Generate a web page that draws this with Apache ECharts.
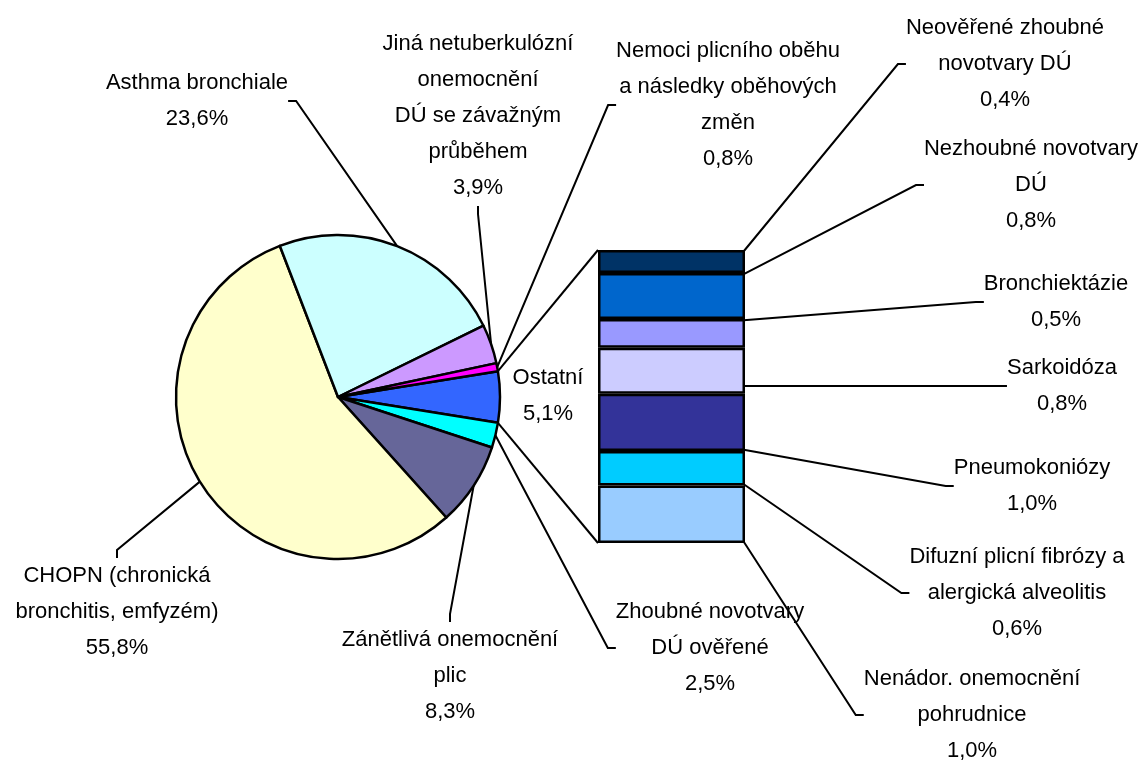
<!DOCTYPE html>
<html>
<head>
<meta charset="utf-8">
<script src="https://cdn.jsdelivr.net/npm/echarts@6/dist/echarts.min.js"></script>
<style>
  html, body { margin: 0; background: #fff; }
  #chart { width: 1147px; height: 760px; }
</style>
</head>
<body>
<div id="chart"></div>
<script>
// pie: first slice is "Ostatní", which is broken down in the bar
const pieNames = [
  'Ostatní',
  'Zhoubné novotvary\nDÚ ověřené',
  'Zánětlivá onemocnění\nplic',
  'CHOPN (chronická\nbronchitis, emfyzém)',
  'Asthma bronchiale',
  'Jiná netuberkulózní\nonemocnění\nDÚ se závažným\nprůběhem',
  'Nemoci plicního oběhu\na následky oběhových\nzměn'
]
const pieValues = [5.1, 2.5, 8.3, 55.8, 23.6, 3.9, 0.8]
const pieColors = ['#3366FF', '#00FFFF', '#666699', '#FFFFCC', '#CCFFFF', '#CC99FF', '#FF00FF']

// bar: breakdown of "Ostatní", top to bottom
const barNames = [
  'Neověřené zhoubné\nnovotvary DÚ',
  'Nezhoubné novotvary\nDÚ',
  'Bronchiektázie',
  'Sarkoidóza',
  'Pneumokoniózy',
  'Difuzní plicní fibrózy a\nalergická alveolitis',
  'Nenádor. onemocnění\npohrudnice'
]
const barValues = [0.4, 0.8, 0.5, 0.8, 1.0, 0.6, 1.0]
const barColors = ['#003366', '#0066CC', '#9999FF', '#CCCCFF', '#333399', '#00CCFF', '#99CCFF']

// label centres (px)
const pieLabelPos = [[548, 396], [710, 648], [450, 676], [117, 612], [197, 101], [478, 116], [728, 105]]
const barLabelPos = [[1005, 64], [1031, 185], [1056, 302], [1062, 386], [1032, 486], [1017, 593], [972, 715]]

const pieCenter = [338, 397]
const pieRadius = 162

const fmt = v => v.toFixed(1).replace('.', ',') + '%'

const textStyle = {
  color: '#000',
  fontFamily: '"Liberation Sans", Arial, sans-serif',
  fontSize: 22,
  lineHeight: 36,
  align: 'center'
}
const leader = { show: true, length: 10, length2: 8, lineStyle: { color: '#000', width: 2 } }

const chart = echarts.init(document.getElementById('chart'))

const total = pieValues.reduce((a, b) => a + b, 0)
const halfAngle = pieValues[0] / total * 180

const option = {
  animation: false,
  grid: { left: 598, right: 402, top: 250, bottom: 217 },
  xAxis: { type: 'category', data: ['Ostatní'], show: false },
  yAxis: { type: 'value', min: 0, max: 5.1, inverse: true, show: false },
  series: [
    {
      type: 'pie',
      center: pieCenter,
      radius: pieRadius,
      startAngle: halfAngle,
      clockwise: true,
      avoidLabelOverlap: false,
      itemStyle: { borderColor: '#000', borderWidth: 2.5 },
      label: {
        show: true,
        position: 'outside',
        ...textStyle,
        formatter: p => p.name + '\n' + fmt(p.value)
      },
      labelLine: leader,
      labelLayout: p => {
        const pos = pieLabelPos[p.dataIndex]
        return { x: pos[0], y: pos[1], align: 'center', verticalAlign: 'middle' }
      },
      emphasis: { disabled: true },
      data: pieNames.map((n, i) => ({
        name: n,
        value: pieValues[i],
        itemStyle: { color: pieColors[i] },
        labelLine: i === 0 ? { show: false } : undefined
      }))
    },
    ...barNames.map((n, i) => ({
      type: 'bar',
      name: n,
      stack: 'ostatni',
      barWidth: 147,
      itemStyle: { color: barColors[i], borderColor: '#000', borderWidth: 2.5 },
      label: {
        show: true,
        position: 'right',
        ...textStyle,
        formatter: p => n + '\n' + fmt(p.value)
      },
      labelLine: leader,
      // leader from the middle of the segment's right edge to the label's left side
      labelLayout: p => {
        const [lx, ly] = barLabelPos[i]
        const left = lx - p.labelRect.width / 2
        const start = [p.rect.x + p.rect.width, p.rect.y + p.rect.height / 2]
        return {
          x: lx,
          y: ly,
          align: 'center',
          verticalAlign: 'middle',
          labelLinePoints: [start, [left - 8, ly], [left - 1, ly]]
        }
      },
      emphasis: { disabled: true },
      data: [barValues[i]]
    }))
  ]
}

chart.setOption(option)

// connector lines from the "Ostatní" slice edges to the bar corners
const barTotal = barValues.reduce((a, b) => a + b, 0)
const cx = chart.convertToPixel({ xAxisIndex: 0 }, 'Ostatní')
const yTop = chart.convertToPixel({ yAxisIndex: 0 }, 0)
const yBot = chart.convertToPixel({ yAxisIndex: 0 }, barTotal)
const barLeft = cx - 147 / 2
const rad = halfAngle * Math.PI / 180
const sliceTop = [pieCenter[0] + pieRadius * Math.cos(rad), pieCenter[1] - pieRadius * Math.sin(rad)]
const sliceBot = [pieCenter[0] + pieRadius * Math.cos(rad), pieCenter[1] + pieRadius * Math.sin(rad)]

chart.setOption({
  graphic: [
    { type: 'line', shape: { x1: sliceTop[0], y1: sliceTop[1], x2: barLeft, y2: yTop }, style: { stroke: '#000', lineWidth: 2 } },
    { type: 'line', shape: { x1: sliceBot[0], y1: sliceBot[1], x2: barLeft, y2: yBot }, style: { stroke: '#000', lineWidth: 2 } }
  ]
})
</script>
</body>
</html>
